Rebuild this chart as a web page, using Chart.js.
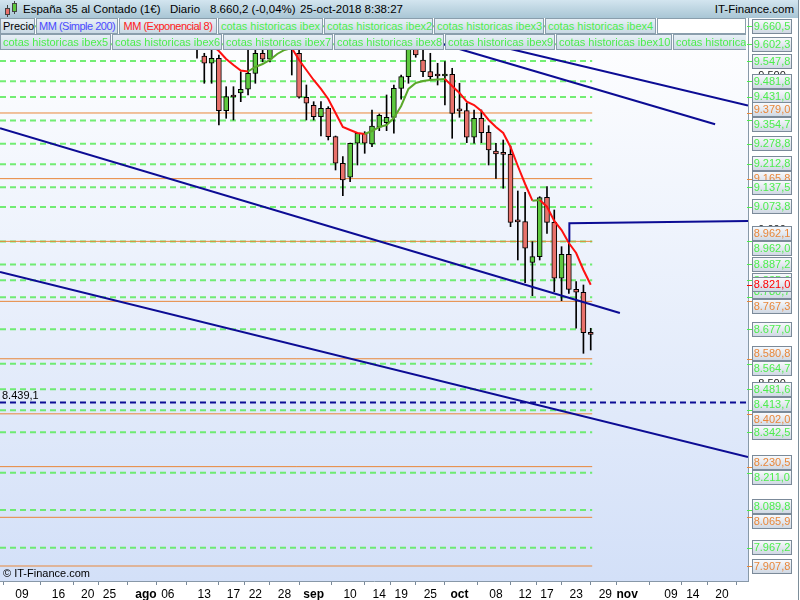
<!DOCTYPE html>
<html>
<head>
<meta charset="utf-8">
<script src="https://cdn.jsdelivr.net/npm/chart.js@4.4.1/dist/chart.umd.min.js"></script>
<style>
body { margin: 0; background: #fff; font-family: "Liberation Sans", Arial, sans-serif; }
#wrap { position: relative; width: 800px; height: 600px; overflow: hidden; background: #fff; }
#chart { position: absolute; left: 0; top: 18px; }
#hdr { position: absolute; left: 0; top: 0; width: 798px; height: 18px; background: linear-gradient(#d3e5ef, #a9c6d5); font-size: 11.5px; line-height: 18px; color: #000; }
#hdr span { position: absolute; top: 0; }
.legrow { position: absolute; left: 0; width: 746px; height: 16px; overflow: hidden; white-space: nowrap; display: flex; }
.legrow span { box-sizing: border-box; flex: none; height: 16px; line-height: 14px; font-size: 11px; padding: 0 2px; border: 1px solid #8a9eac; margin-right: 1px; overflow: hidden; text-align: center; background: linear-gradient(#e8f0f6, #c9d9e4); }
.legrow span.g { color: #4ded4d; }
.legrow span.tight { letter-spacing: -0.5px; }
.legrow span.fill { flex: 1; background: #fff; margin-right: 0; }
#copy { position: absolute; left: 3px; top: 567px; font-size: 11px; color: #000; }
#edge { position: absolute; left: 798px; top: 0; width: 1px; height: 600px; background: #7d8e9a; }
.ic { position: absolute; box-sizing: border-box; border: 1px solid #444; }
.wk { position: absolute; width: 1px; background: #444; }
</style>
</head>
<body>
<div id="wrap">
  <canvas id="chart" width="800" height="582"></canvas>
  <div id="hdr">
    <div class="wk" style="left:7px;top:5px;height:12px"></div>
    <div class="ic" style="left:5px;top:8px;width:5px;height:7px;background:#e8716b"></div>
    <div class="wk" style="left:14px;top:1px;height:13px"></div>
    <div class="ic" style="left:12px;top:3px;width:5px;height:9px;background:#5ec83f"></div>
    <span style="left:23px">España 35 al Contado (1€)</span>
    <span style="left:170px">Diario</span>
    <span style="left:210px">8.660,2 (-0,04%)</span>
    <span style="left:300px">25-oct-2018 8:38:27</span>
    <span style="right:4px">IT-Finance.com</span>
  </div>
  <div class="legrow" style="top:18px">
    <span style="width:35px">Precio</span>
    <span class="tight" style="width:82px;color:#4a4aff">MM (Simple 200)</span>
    <span class="tight" style="width:98px;color:#ff2020">MM (Exponencial 8)</span>
    <span class="g" style="width:105px">cotas historicas ibex</span>
    <span class="g" style="width:109px">cotas historicas ibex2</span>
    <span class="g" style="width:110px">cotas historicas ibex3</span>
    <span class="g" style="width:111px">cotas historicas ibex4</span>
    <span class="fill"></span>
  </div>
  <div class="legrow" style="top:34px">
    <span class="g" style="width:111px">cotas historicas ibex5</span>
    <span class="g" style="width:110px">cotas historicas ibex6</span>
    <span class="g" style="width:110px">cotas historicas ibex7</span>
    <span class="g" style="width:110px">cotas historicas ibex8</span>
    <span class="g" style="width:110px">cotas historicas ibex9</span>
    <span class="g" style="width:116px">cotas historicas ibex10</span>
    <span class="g" style="width:116px;text-align:left">cotas historicas ibex11</span>
  </div>
  <div id="copy">© IT-Finance.com</div>
  <div id="edge"></div>
</div>
<script>
// trading-day index (0 = 9 jul 2018)
const candleX = [24,25,26,27,28,29,30,31,32,33,34,35,36,37,38,39,40,41,42,43,44,45,46,47,48,49,50,51,
                 52,53,54,55,56,57,58,59,60,61,62,63,64,65,66,67,68,69,70,71,72,73,74,75,76,77,78];
const opens  = [9640,9564.1,9540.4,9556.7,9386.5,9432.0,9444.0,9456.0,9507.9,9572.9,9553.4,9610,9640,9630,
                9572.9,9430.0,9404.0,9367.0,9394.3,9302.0,9215.7,9170.2,9280.6,9313.1,9278.3,9332.6,9347.5,9365.0,
                9459.2,9496.9,9589.1,9551.1,9513.1,9499.2,9499.2,9504.7,9386.5,9386.5,9300.1,9361.8,9316.3,9255.6,
                9244.9,9244.9,9026.0,9026.0,8894.1,8912.3,9105.2,9024.0,8842.2,8920.1,8806.4,8796.7,8666.8];
const highs  = [9660,9572.9,9583.6,9567.4,9464.4,9464.4,9513.1,9583.6,9590.0,9620,9650,9660,9670,9650,
                9583.6,9469.9,9415.7,9415.7,9399.5,9304.3,9237.1,9281.6,9314.1,9318.3,9388.8,9375.8,9437.5,9469.9,
                9502.4,9610,9640,9589.1,9572.9,9540.4,9545.6,9524.2,9475.5,9411.5,9388.8,9388.8,9337.8,9280.6,
                9291.3,9271.8,9125.7,9121.5,8961.0,9107.2,9139.7,9064.0,8944.8,8961.0,8831.1,8820.4,8679.8];
const lows   = [9556.7,9475.5,9475.5,9340.0,9361.8,9356.3,9415.7,9437.5,9475.5,9545,9545,9600,9610,9502.4,
                9426.8,9356.3,9356.3,9304.3,9291.3,9193.9,9110.4,9155.9,9210.1,9248.1,9269.6,9321.5,9321.5,9313.1,
                9423.5,9475.5,9560,9496.9,9486.2,9469.9,9405.0,9296.9,9365.0,9282.6,9280.6,9282.6,9210.1,9166.9,
                9134.5,9009.8,8901.6,8827.9,8785.7,8901.6,8988.3,8798.7,8769.4,8793.4,8679.8,8598.6,8609.3];
const closes = [9590,9540.4,9556.7,9386.5,9432.0,9431.0,9456.0,9507.9,9572.9,9553.4,9610,9640,9630,9600,
                9430.0,9410.5,9367.0,9394.3,9302.0,9215.7,9161.4,9280.6,9313.1,9280.6,9336.8,9371.5,9365.0,9459.2,
                9496.9,9589.1,9567.4,9513.1,9496.9,9499.0,9505.7,9378.0,9386.0,9300.1,9361.8,9315.0,9258.8,9245.9,
                9244.5,9024.0,9025.5,8939.6,8912.3,9103.9,9024.0,8842.2,8920.1,8806.4,8796.7,8665.5,8660.2];

// MM (Exponencial 8)
const emaX = [26,27,28,29,30,31,32,33,34,35,36,37,38,39,40,41,42,43,44,45,46,47,48,49,50,51,52,
              53,54,55,56,57,58,59,60,61,62,63,64,65,66,67,68,69,70,71,72,73,74,75,76,77,78];
const emaY = [9599.9,9580.4,9554.4,9534.9,9517.0,9513.8,9528.4,9538.1,9551.1,9570.6,9583.6,9590.1,9551.1,
              9518.7,9486.2,9457.0,9424.5,9379.0,9333.5,9323.8,9314.1,9310.8,9320.6,9333.5,9340.0,9362.8,9401.7,
              9457.0,9476.5,9482.9,9486.2,9487.8,9489.4,9466.7,9444.0,9415.7,9405.0,9385.5,9356.3,9333.5,9314.1,
              9268.6,9206.9,9148.4,9094.2,9096.5,9074.7,9028.3,8999.0,8956.8,8924.3,8869.1,8821.0];

// cotas historicas
const greenLevels  = [9660.5,9602.3,9547.8,9481.8,9431.0,9354.7,9278.8,9212.8,9137.5,9073.8,8962.0,8887.2,
                      8835.6,8780.7,8677.0,8564.7,8481.6,8413.7,8342.5,8211.0,8089.8,7967.2];
const orangeLevels = [9379.0,9165.8,8962.1,8767.3,8580.8,8402.0,8230.5,8065.9,7907.8];
const axisTicks = [9500, 9000, 8500];
const supportLevel = 8439.1;

// trend lines
const trend1X = [-3.02, 82.0],  trend1Y = [9329.6, 8729.5];
const trend2X = [-3.02, 99.57], trend2Y = [8862.6, 8261.8];
const trend3X = [61.82, 99.57], trend3Y = [9616.1, 9403.4];
const trend4X = [55.79, 95.06], trend4Y = [9616.1, 9342.6];
const trend5X = [75.07, 75.07, 99.57], trend5Y = [8961.0, 9020.8, 9028.3];

// x axis
const xTickIdx    = [0,5,9,12,17,20,25,29,32,36,40,45,49,52,56,60,65,69,72,76,80,83,89,92,96];
const xTickLabels = ['09','16','20','25','ago','06','13','17','22','28','sep','10','14','19','25',
                     'oct','08','12','17','23','29','nov','09','14','20'];
const monthLabels = ['ago','sep','oct','nov'];

const FONT = '"Liberation Sans", Arial, sans-serif';
const GREEN = '#5ec83f', SALMON = '#e8716b', NAVY = '#0c0c94';
const LEVEL_GREEN = '#4ded4d', LEVEL_ORANGE = '#e8873a';
const xMin = -3.02, xMax = 99.57, levelEnd = 78.2;

function fmt(v, dec) {
  const parts = v.toFixed(dec).split('.');
  const i = parts[0].replace(/\B(?=(\d{3})+(?!\d))/g, '.');
  return dec ? i + ',' + parts[1] : i;
}

function xy(xs, ys) {
  return xs.map((x, i) => ({ x: x, y: ys[i] }));
}

function flatLine(v, x1) {
  return [{ x: xMin, y: v }, { x: x1, y: v }];
}

const datasets = [];

greenLevels.forEach(v => datasets.push({
  type: 'line', data: flatLine(v, levelEnd), borderColor: 'rgba(90,235,90,0.85)',
  borderWidth: 2, borderDash: [6, 4], pointRadius: 0, order: 10
}));
orangeLevels.forEach(v => datasets.push({
  type: 'line', data: flatLine(v, levelEnd), borderColor: LEVEL_ORANGE,
  borderWidth: 1, pointRadius: 0, order: 9
}));
datasets.push({
  type: 'line', data: flatLine(supportLevel, xMax), borderColor: NAVY,
  borderWidth: 2, borderDash: [6, 4], pointRadius: 0, order: 3
});

// wicks
datasets.push({
  type: 'bar', grouped: false, order: 6, barThickness: 1, backgroundColor: '#000',
  data: candleX.map((x, i) => ({ x: x, y: [lows[i], highs[i]] }))
});
// bodies
datasets.push({
  type: 'bar', grouped: false, order: 5, barThickness: 5, minBarLength: 2,
  borderColor: '#000', borderWidth: 1, borderSkipped: false,
  backgroundColor: candleX.map((x, i) => closes[i] >= opens[i] ? GREEN : SALMON),
  data: candleX.map((x, i) => ({ x: x, y: [opens[i], closes[i]] }))
});

datasets.push({
  type: 'line', data: xy(emaX, emaY), borderWidth: 2, pointRadius: 0, order: 2,
  borderColor: '#ff0000',
  segment: { borderColor: c => c.p1.parsed.y > c.p0.parsed.y ? '#5aa82a' : '#ff1010' }
});

[[trend1X, trend1Y], [trend2X, trend2Y], [trend3X, trend3Y], [trend4X, trend4Y], [trend5X, trend5Y]]
  .forEach(t => datasets.push({
    type: 'line', data: xy(t[0], t[1]), borderColor: NAVY, borderWidth: 2, pointRadius: 0, order: 1
  }));

const bgPlugin = {
  id: 'bg',
  beforeDraw(chart) {
    const { ctx, chartArea: a } = chart;
    const g = ctx.createLinearGradient(0, a.top, 0, a.bottom);
    g.addColorStop(0, '#ffffff');
    g.addColorStop(1, '#d3e0f8');
    ctx.fillStyle = g;
    ctx.fillRect(a.left, a.top, a.right - a.left, a.bottom - a.top);
  }
};

const labelPlugin = {
  id: 'levelLabels',
  afterDatasetsDraw(chart) {
    const { ctx } = chart;
    const y = chart.scales.y;
    ctx.save();
    ctx.font = '11px ' + FONT;
    ctx.fillStyle = '#000';
    ctx.textAlign = 'left';
    ctx.textBaseline = 'bottom';
    ctx.fillText(fmt(supportLevel, 1), 2, y.getPixelForValue(supportLevel) - 1);
    ctx.restore();
  },
  afterDraw(chart) {
    const { ctx, chartArea: a } = chart;
    const y = chart.scales.y;
    const H = 15, bx = a.right + 4, bw = 40;

    ctx.save();
    // plot border
    ctx.strokeStyle = '#8899a8';
    ctx.lineWidth = 1;
    ctx.beginPath();
    ctx.moveTo(a.right + 0.5, a.top);
    ctx.lineTo(a.right + 0.5, a.bottom);
    ctx.stroke();

    ctx.font = '11px ' + FONT;
    ctx.textAlign = 'center';
    ctx.textBaseline = 'middle';
    ctx.fillStyle = '#222';
    axisTicks.forEach(v => ctx.fillText(fmt(v, 0), bx + bw / 2, y.getPixelForValue(v)));

    const items = greenLevels.map(v => ({ v: v, c: LEVEL_GREEN }))
      .concat(orangeLevels.map(v => ({ v: v, c: LEVEL_ORANGE })))
      .sort((p, q) => q.v - p.v);
    items.forEach(it => { it.py = y.getPixelForValue(it.v); it.ly = it.py; });
    for (let i = 1; i < items.length; i++) {
      if (items[i].py - items[i - 1].ly < H && !items[i - 1].moved) {
        const mid = (items[i].py + items[i - 1].py) / 2;
        items[i - 1].ly = mid - H / 2;
        items[i].ly = mid + H / 2;
        items[i].moved = true;
      }
    }
    items.push({ v: emaY[emaY.length - 1], c: '#ff0000' });
    const last = items[items.length - 1];
    last.py = last.ly = y.getPixelForValue(last.v);

    items.forEach(it => {
      ctx.strokeStyle = it.c;
      ctx.beginPath();
      ctx.moveTo(a.right - 1, Math.round(it.py) + 0.5);
      ctx.lineTo(bx, Math.round(it.py) + 0.5);
      ctx.stroke();
      const top = Math.round(it.ly - H / 2);
      const g = ctx.createLinearGradient(0, top, 0, top + H);
      g.addColorStop(0, '#fbfcfe');
      g.addColorStop(1, '#cdd6e2');
      ctx.fillStyle = g;
      ctx.fillRect(bx, top, bw, H);
      ctx.strokeStyle = '#7b8a99';
      ctx.strokeRect(bx + 0.5, top + 0.5, bw - 1, H - 1);
      ctx.fillStyle = it.c;
      ctx.fillText(fmt(it.v, 1), bx + bw / 2, top + H / 2 + 0.5);
    });
    ctx.restore();
  }
};

new Chart(document.getElementById('chart'), {
  type: 'bar',
  data: { datasets: datasets },
  options: {
    responsive: false,
    animation: false,
    events: [],
    layout: { padding: { left: 0, right: 52, top: 0, bottom: 0 } },
    plugins: { legend: { display: false }, tooltip: { enabled: false } },
    scales: {
      x: {
        type: 'linear', min: xMin, max: xMax, offset: false,
        afterBuildTicks: s => { s.ticks = xTickIdx.map(v => ({ value: v })); },
        afterFit: s => { s.height = 19; },
        grid: { drawOnChartArea: false, tickLength: 4, color: '#7a8a9a' },
        border: { color: '#8898a8' },
        ticks: {
          autoSkip: false, maxRotation: 0, minRotation: 0, padding: 2, color: '#000',
          callback: (v, i) => xTickLabels[i],
          font: c => ({ family: FONT, size: 12,
                        weight: monthLabels.includes(xTickLabels[c.index]) ? 'bold' : 'normal' })
        }
      },
      y: { type: 'linear', display: false, min: 7859.1, max: 9687.5 }
    }
  },
  plugins: [bgPlugin, labelPlugin]
});
</script>
</body>
</html>
